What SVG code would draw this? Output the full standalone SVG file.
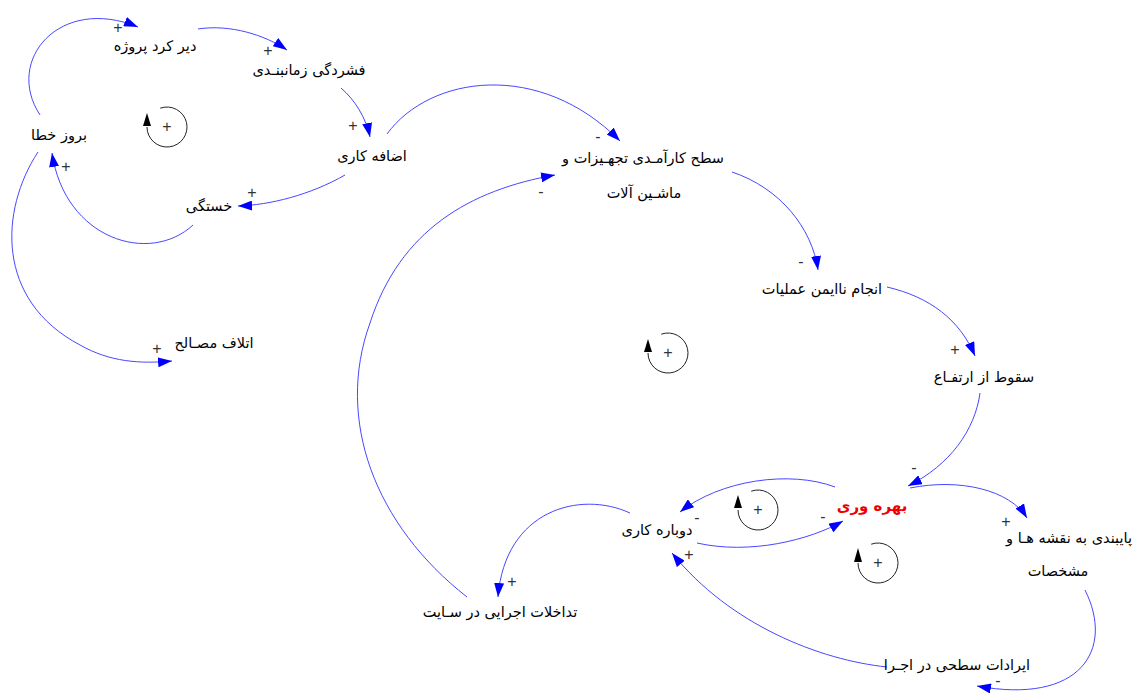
<svg xmlns="http://www.w3.org/2000/svg" width="1140" height="695" viewBox="0 0 1140 695">
<style>
.n{font-family:"DejaVu Sans",sans-serif;font-size:14.5px;fill:#000;text-anchor:middle;direction:rtl}
.r{fill:#ee0000;font-weight:bold;font-size:15px}
.s{font-family:"Liberation Sans",sans-serif;font-size:16px;fill:#333;text-anchor:middle}
.c path{fill:none;stroke:#4747ff;stroke-width:1}
.l circle,.l path{fill:none;stroke:#222;stroke-width:1}
.l polygon{fill:#000}
</style>
<defs>
<marker id="a" markerUnits="userSpaceOnUse" markerWidth="15" markerHeight="10" refX="14" refY="5" orient="auto">
<path d="M0,0 L14,5 L0,10 z" fill="#0000ff"/>
</marker>
</defs>
<rect width="1140" height="695" fill="#ffffff"/>
<g id="connectors" class="c">
<path d="M40,115 C4,60 60,-5 138,27" marker-end="url(#a)"/>
<path d="M198,29 C230,24 265,35 287,50" marker-end="url(#a)"/>
<path d="M341,88 C355,100 366,118 370,137" marker-end="url(#a)"/>
<path d="M345,175 C310,195 270,205 238,206" marker-end="url(#a)"/>
<path d="M193,225 C150,265 65,240 52,153" marker-end="url(#a)"/>
<path d="M38,152 C0,210 -5,300 80,345 C110,362 140,364 172,361" marker-end="url(#a)"/>
<path d="M387,134 C430,75 540,60 620,141" marker-end="url(#a)"/>
<path d="M732,172 C780,188 812,228 818,270" marker-end="url(#a)"/>
<path d="M887,287 C930,297 960,320 975,356" marker-end="url(#a)"/>
<path d="M980,393 C975,430 950,465 908,486" marker-end="url(#a)"/>
<path d="M910,488 C960,478 1010,490 1027,518" marker-end="url(#a)"/>
<path d="M1085,590 C1115,650 1080,705 977,686" marker-end="url(#a)"/>
<path d="M887,667 C820,660 730,625 672,553" marker-end="url(#a)"/>
<path d="M835,487 C790,470 720,480 680,512" marker-end="url(#a)"/>
<path d="M697,543 C750,555 810,540 843,521" marker-end="url(#a)"/>
<path d="M630,513 C580,490 505,510 498,597" marker-end="url(#a)"/>
<path d="M467,597 C375,525 335,420 370,323 C400,230 470,190 555,175" marker-end="url(#a)"/>
</g>
<g id="signs">
<text class="s" x="118" y="33">+</text>
<text class="s" x="268" y="56">+</text>
<text class="s" x="353" y="131">+</text>
<text class="s" x="252" y="198">+</text>
<text class="s" x="66" y="172">+</text>
<text class="s" x="157" y="354">+</text>
<text class="s" x="598" y="142">-</text>
<text class="s" x="541" y="197">-</text>
<text class="s" x="801" y="267">-</text>
<text class="s" x="955" y="355">+</text>
<text class="s" x="914" y="473">-</text>
<text class="s" x="1006" y="527">+</text>
<text class="s" x="697" y="523">-</text>
<text class="s" x="823" y="522">-</text>
<text class="s" x="689" y="560">+</text>
<text class="s" x="998" y="686">-</text>
<text class="s" x="512" y="587">+</text>
</g>
<g id="loops" class="l">
<g id="loop1"><path d="M160.2,108.2 A20 20 0 1 1 147,127"/><polygon points="147,113 143,126 151,126"/><text class="s" x="167" y="132">+</text></g>
<g id="loop2"><path d="M661.2,334.2 A20 20 0 1 1 648,353"/><polygon points="648,339 644,352 652,352"/><text class="s" x="668" y="358">+</text></g>
<g id="loop3"><path d="M751.2,491.2 A20 20 0 1 1 738,510"/><polygon points="738,495 734,508 742,508"/><text class="s" x="758" y="515">+</text></g>
<g id="loop4"><path d="M871.2,544.2 A20 20 0 1 1 858,563"/><polygon points="858,548 854,562 862,562"/><text class="s" x="878" y="568">+</text></g>
</g>
<g id="n1"><text class="n" x="155" y="51">دیر کرد پروژه</text></g>
<g id="n2"><text class="n" x="309" y="75">فشردگی زمانبنـدی</text></g>
<g id="n3"><text class="n" x="59" y="140">بروز خطا</text></g>
<g id="n4"><text class="n" x="372" y="161">اضافه کاری</text></g>
<g id="n5"><text class="n" x="209" y="211">خستگی</text></g>
<g id="n6"><text class="n" x="214" y="348">اتلاف مصـالح</text></g>
<g id="n7"><text class="n" x="643" y="163">سطح کارآمـدی تجهـیزات و</text><text class="n" x="644" y="198">ماشـین آلات</text></g>
<g id="n8"><text class="n" x="822" y="294">انجام ناایمن عملیات</text></g>
<g id="n9"><text class="n" x="984" y="382">سقوط از ارتفـاع</text></g>
<g id="n10"><text class="n r" x="872" y="511">بهره  وری</text></g>
<g id="n11"><text class="n" x="657" y="535">دوباره  کاری</text></g>
<g id="n12"><text class="n" x="1069" y="543">پایبندی به نقشه هـا و</text><text class="n" x="1058" y="576">مشخصات</text></g>
<g id="n13"><text class="n" x="957" y="670">ایرادات سطحی در اجـرا</text></g>
<g id="n14"><text class="n" x="500" y="617">تداخلات اجرایی در سـایت</text></g>
</svg>
